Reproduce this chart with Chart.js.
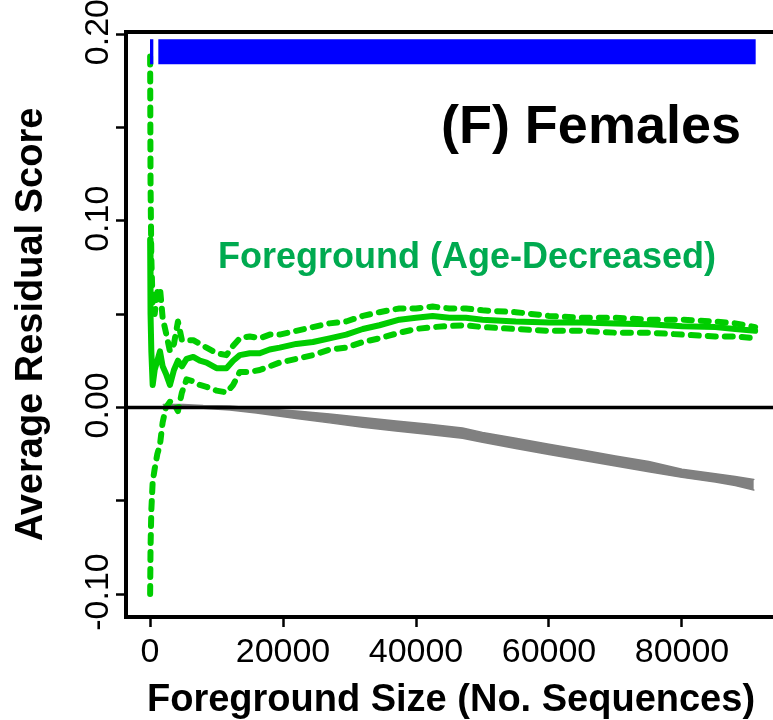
<!DOCTYPE html>
<html>
<head>
<meta charset="utf-8">
<script src="https://cdn.jsdelivr.net/npm/chart.js@4.4.0/dist/chart.umd.min.js"></script>
<style>
  html, body { margin: 0; padding: 0; background: #fff; }
  #chart { display: block; }
</style>
</head>
<body>
<canvas id="chart" width="773" height="720"></canvas>
<script>
// foreground (age-decreased) running average and its confidence bounds
const sizes = [20, 80, 200, 400, 700, 1100, 1500, 1900, 2400, 3000, 3600, 4200, 4800, 5500, 6500, 7500, 8500,
  10000, 11500, 12500, 13500, 15000, 16500, 18000, 19500, 22000, 24500, 27000, 29500, 32000, 34500, 37500,
  40000, 42500, 45000, 47500, 50000, 55000, 60000, 65000, 70000, 75000, 80000, 85000, 88000, 91000];
const upperCI = [0.188, 0.120, 0.080, 0.055, 0.050, 0.062, 0.064, 0.048, 0.040, 0.030, 0.034, 0.046, 0.036, 0.036, 0.036, 0.034, 0.032,
  0.029, 0.028, 0.033, 0.037, 0.038, 0.037, 0.039, 0.039, 0.041, 0.043, 0.045, 0.046, 0.049, 0.051, 0.053,
  0.053, 0.054, 0.053, 0.053, 0.052, 0.051, 0.049, 0.048, 0.048, 0.047, 0.047, 0.046, 0.045, 0.043];
const meanScore = [0.090, 0.050, 0.030, 0.012, 0.020, 0.025, 0.030, 0.022, 0.018, 0.012, 0.020, 0.025, 0.022, 0.026, 0.027, 0.025, 0.024,
  0.021, 0.021, 0.025, 0.028, 0.029, 0.029, 0.031, 0.032, 0.034, 0.035, 0.037, 0.039, 0.042, 0.044, 0.047,
  0.048, 0.049, 0.048, 0.048, 0.047, 0.046, 0.0455, 0.0455, 0.045, 0.0445, 0.0435, 0.043, 0.042, 0.041];
const lowerCI = [-0.100, -0.075, -0.055, -0.040, -0.033, -0.025, -0.020, -0.008, 0.000, 0.003, 0.002, -0.002, 0.008, 0.015, 0.014, 0.012, 0.011,
  0.009, 0.008, 0.012, 0.019, 0.019, 0.020, 0.022, 0.024, 0.026, 0.028, 0.031, 0.032, 0.035, 0.037, 0.040,
  0.042, 0.043, 0.0436, 0.044, 0.043, 0.042, 0.041, 0.041, 0.040, 0.040, 0.039, 0.038, 0.038, 0.037];

// background band (grey)
const bgSizes = [2000, 5000, 8000, 12000, 16000, 22000, 27000, 32000, 37000, 42000, 47000, 50000, 55000,
  60000, 65000, 70000, 75000, 80000, 85000, 88000, 90800];
const bgUpper = [0.0015, 0.0015, 0.001, 0.0007, -0.0005, -0.002, -0.0035, -0.0054, -0.0073, -0.0091, -0.011, -0.0134, -0.0165,
  -0.0198, -0.0228, -0.026, -0.029, -0.0332, -0.0355, -0.037, -0.0386];
const bgLower = [0.0005, 0.0, -0.0005, -0.0014, -0.003, -0.006, -0.0083, -0.0107, -0.0126, -0.0145, -0.0165, -0.0187, -0.022,
  -0.0252, -0.0283, -0.0314, -0.0345, -0.0375, -0.040, -0.0418, -0.0443];

// significance strip along the top
const sigRanges = [[0, 500], [1250, 91080]];
const sigLevel = 0.1905;

const xTicks = [0, 20000, 40000, 60000, 80000];
const yTicks = [-0.10, -0.05, 0, 0.05, 0.10, 0.15, 0.20];
const yTickLabels = ['-0.10', '', '0.00', '', '0.10', '', '0.20'];
const xMin = -3610, xMax = 93685, yMin = -0.1123, yMax = 0.2011;

const GREEN = '#00cd00';
const pts = (xs, ys) => xs.map((v, i) => ({ x: v, y: ys[i] }));

const sigData = [];
sigRanges.forEach((r, i) => {
  if (i > 0) sigData.push({ x: (sigRanges[i - 1][1] + r[0]) / 2, y: null });
  sigData.push({ x: r[0], y: sigLevel }, { x: r[1], y: sigLevel });
});

const lineBase = { pointRadius: 0, tension: 0, fill: false, borderCapStyle: 'round', borderJoinStyle: 'round' };

const decor = {
  id: 'decor',
  afterDraw(chart) {
    const { ctx, chartArea: a, scales: { x, y } } = chart;
    ctx.save();
    ctx.strokeStyle = '#000';
    ctx.lineWidth = 4;
    ctx.beginPath();
    ctx.moveTo(a.left - 2, a.top);
    ctx.lineTo(a.right, a.top);
    ctx.stroke();

    ctx.fillStyle = '#000';
    ctx.font = '34px "Liberation Sans"';
    ctx.textAlign = 'center';
    ctx.textBaseline = 'alphabetic';
    xTicks.forEach(v => ctx.fillText(String(v), x.getPixelForValue(v), 662));
    yTicks.forEach((v, i) => {
      if (!yTickLabels[i]) return;
      ctx.save();
      ctx.translate(108, y.getPixelForValue(v) - 2);
      ctx.rotate(-Math.PI / 2);
      ctx.fillText(yTickLabels[i], 0, 0);
      ctx.restore();
    });

    ctx.font = 'bold 38px "Liberation Sans"';
    ctx.fillText('Foreground Size (No. Sequences)', 451, 711);
    ctx.save();
    ctx.translate(42, (a.top + a.bottom) / 2);
    ctx.rotate(-Math.PI / 2);
    ctx.fillText('Average Residual Score', 0, 0);
    ctx.restore();

    ctx.font = 'bold 54px "Liberation Sans"';
    ctx.textAlign = 'right';
    ctx.fillText('(F) Females', 741, 143);

    ctx.font = 'bold 36px "Liberation Sans"';
    ctx.textAlign = 'center';
    ctx.fillStyle = '#00aa50';
    ctx.fillText('Foreground (Age-Decreased)', 467, 268);
    ctx.restore();
  }
};

new Chart(document.getElementById('chart'), {
  type: 'line',
  data: {
    datasets: [
      { ...lineBase, data: [{ x: xMin, y: 0 }, { x: xMax, y: 0 }], borderColor: '#000', borderWidth: 3.5, borderCapStyle: 'butt', order: 0 },
      { ...lineBase, data: sigData, borderColor: '#0000ff', borderWidth: 25, borderCapStyle: 'butt', spanGaps: false, order: 1 },
      { ...lineBase, data: pts(sizes, upperCI), borderColor: GREEN, borderWidth: 6, borderDash: [8, 9], order: 2 },
      { ...lineBase, data: pts(sizes, lowerCI), borderColor: GREEN, borderWidth: 6, borderDash: [8, 9], order: 3 },
      { ...lineBase, data: pts(sizes, meanScore), borderColor: GREEN, borderWidth: 6, order: 4 },
      { ...lineBase, data: pts(bgSizes, bgUpper), borderColor: '#808080', backgroundColor: '#808080', borderWidth: 1.5, fill: '+1', order: 5 },
      { ...lineBase, data: pts(bgSizes, bgLower), borderColor: '#808080', borderWidth: 1.5, order: 6 }
    ]
  },
  options: {
    responsive: false,
    animation: false,
    devicePixelRatio: 1,
    layout: { padding: { top: 32, left: 0, right: 0, bottom: 0 } },
    plugins: { legend: { display: false }, tooltip: { enabled: false } },
    scales: {
      x: {
        type: 'linear', min: xMin, max: xMax,
        afterBuildTicks: s => { s.ticks = xTicks.map(v => ({ value: v })); },
        afterFit: s => { s.height = 103; },
        ticks: { display: false },
        grid: { display: true, drawOnChartArea: false, drawTicks: true, tickLength: 10, tickWidth: 2.5, tickColor: '#000', color: '#000' },
        border: { display: true, color: '#000', width: 4 }
      },
      y: {
        type: 'linear', min: yMin, max: yMax,
        afterBuildTicks: s => { s.ticks = yTicks.map(v => ({ value: v })); },
        afterFit: s => { s.width = 126; },
        ticks: { display: false },
        grid: { display: true, drawOnChartArea: false, drawTicks: true, tickLength: 10, tickWidth: 2.5, tickColor: '#000', color: '#000' },
        border: { display: true, color: '#000', width: 4 }
      }
    }
  },
  plugins: [decor]
});
</script>
</body>
</html>
